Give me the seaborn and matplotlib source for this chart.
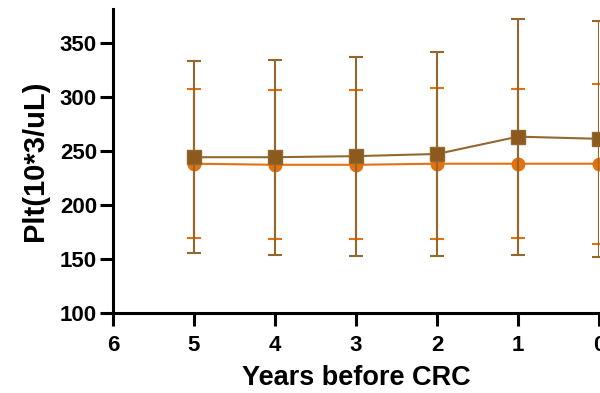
import matplotlib
matplotlib.use("Agg")
import matplotlib.pyplot as plt
import pandas as pd
import seaborn as sns

# values (mean +/- SD per year before diagnosis)
years = [5, 4, 3, 2, 1, 0]
case_mean = [244, 244, 245, 247, 263, 261]
case_sd = [89, 90, 92, 94, 109, 109]
ctrl_mean = [238, 237, 237, 238, 238, 238]
ctrl_sd = [69, 69, 69, 70, 69, 74]

BROWN = "#8B5A1C"
BROWN_LINE = "#93682E"
ORANGE = "#E5700E"

sns.set_style("ticks")
plt.rcParams["font.family"] = ["Liberation Sans", "DejaVu Sans"]
plt.rcParams["font.weight"] = "bold"
plt.rcParams["text.color"] = "black"
plt.rcParams["axes.labelcolor"] = "black"
plt.rcParams["xtick.color"] = "black"
plt.rcParams["ytick.color"] = "black"

df = pd.DataFrame({
    "year": years * 2,
    "plt": ctrl_mean + case_mean,
    "group": ["control"] * len(years) + ["case"] * len(years),
})

fig = plt.figure(figsize=(6.0, 3.93), dpi=100)
ax = fig.add_axes([113 / 600, 80 / 393, 486 / 600, 304 / 393])

# control group (orange circles) underneath
ax.errorbar(years, ctrl_mean, yerr=ctrl_sd, fmt="none", ecolor=ORANGE,
            elinewidth=1.5, capsize=5, capthick=1.5, zorder=2)
sns.lineplot(data=df[df.group == "control"], x="year", y="plt", ax=ax,
             color=ORANGE, marker="o", markersize=10, markeredgewidth=0,
             linewidth=1.5, zorder=3)

# case group (brown squares) on top
ax.errorbar(years, case_mean, yerr=case_sd, fmt="none", ecolor=BROWN_LINE,
            elinewidth=1.5, capsize=5, capthick=1.5, zorder=4)
sns.lineplot(data=df[df.group == "case"], x="year", y="plt", ax=ax,
             color=BROWN_LINE, marker="s", markersize=10,
             markerfacecolor=BROWN, markeredgecolor=BROWN_LINE,
             markeredgewidth=1, linewidth=1.5, zorder=5)

ax.set_xlim(6, 0)
ax.set_ylim(100, 381)
ax.set_xticks([6, 5, 4, 3, 2, 1, 0])
ax.set_yticks([100, 150, 200, 250, 300, 350])
ax.set_xlabel("Years before CRC", fontsize=19.5, fontweight="bold",
              labelpad=7, color="black")
ax.set_ylabel("Plt(10*3/uL)", fontsize=21, fontweight="bold",
              labelpad=8, color="black")
ax.tick_params(axis="both", labelsize=16, width=2.2, length=9.5,
               color="black", labelcolor="black")
ax.tick_params(axis="x", pad=6)
ax.tick_params(axis="y", pad=2)
for lbl in ax.get_xticklabels() + ax.get_yticklabels():
    lbl.set_fontweight("bold")

sns.despine(ax=ax)
for side in ["left", "bottom"]:
    ax.spines[side].set_linewidth(2.2)
    ax.spines[side].set_color("black")
    ax.spines[side].set_clip_on(False)

if ax.get_legend() is not None:
    ax.get_legend().remove()

fig.savefig("out.png", dpi=100)
